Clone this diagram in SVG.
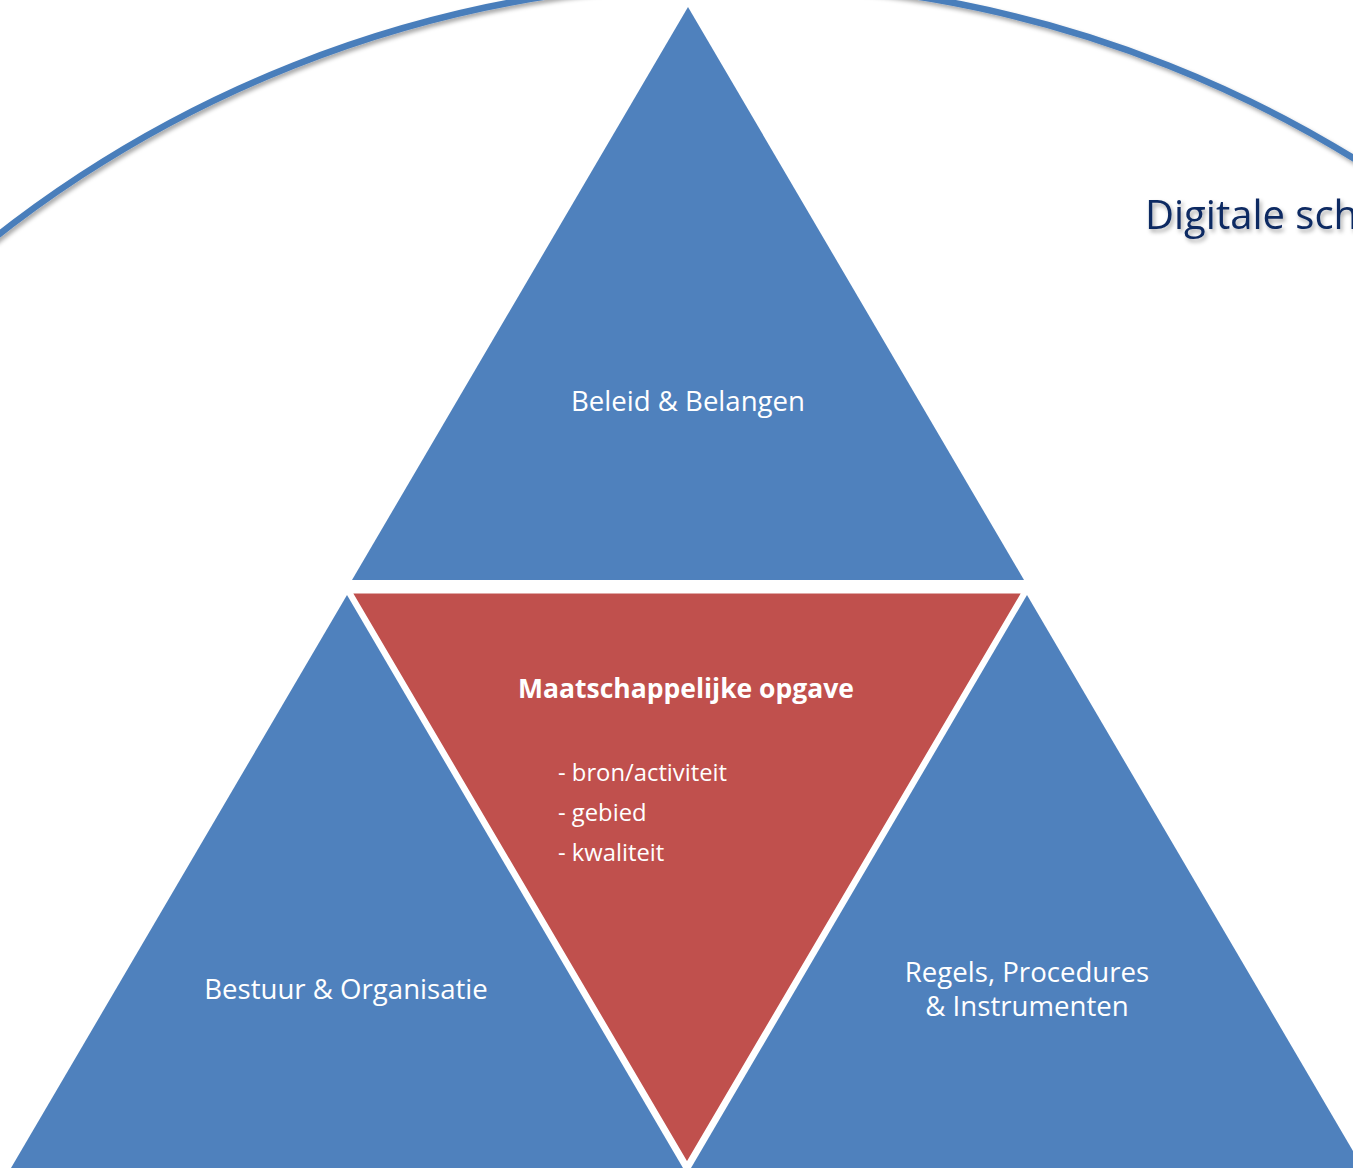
<svg xmlns="http://www.w3.org/2000/svg" width="1353" height="1168" viewBox="0 0 1353 1168">
<defs>
<style>
.blue{fill:#4F81BD;}
.red{fill:#C0504D;stroke:#FFFFFF;stroke-width:5;stroke-linejoin:miter;}
.lbl{font-family:"Open Sans","Noto Sans","DejaVu Sans",sans-serif;fill:#FFFFFF;font-size:27.6px;}
.bold{font-size:26.5px;font-weight:bold;}
.item{font-family:"Open Sans","Noto Sans","DejaVu Sans",sans-serif;fill:#FFFFFF;font-size:23.8px;}
.title{font-family:"Open Sans","Noto Sans","DejaVu Sans",sans-serif;fill:#0E2A62;font-size:40px;}
.arc{fill:none;stroke:#4A7EBB;stroke-width:6.5;}
</style>
<filter id="sh" x="-10%" y="-10%" width="120%" height="130%">
<feDropShadow dx="2" dy="3" stdDeviation="2" flood-color="#000000" flood-opacity="0.35"/>
</filter>
</defs>
<g id="circle-arc">
<circle class="arc" cx="731" cy="1170" r="1188" filter="url(#sh)"/>
</g>
<g id="title">
<text class="title" x="1145" y="229" filter="url(#sh)">Digitale sch</text>
</g>
<g id="beleid">
<polygon class="blue" points="688,7 352,580 1024,580"/>
<text class="lbl" x="688" y="411" text-anchor="middle">Beleid &amp; Belangen</text>
</g>
<g id="bestuur">
<polygon class="blue" points="347,595 11,1168 683,1168"/>
<text class="lbl" x="346" y="999" text-anchor="middle">Bestuur &amp; Organisatie</text>
</g>
<g id="regels">
<polygon class="blue" points="1027,595 691,1168 1363,1168"/>
<text class="lbl" text-anchor="middle"><tspan x="1027" y="982">Regels, Procedures</tspan><tspan x="1027" y="1016">&amp; Instrumenten</tspan></text>
</g>
<g id="opgave">
<polygon class="red" points="349,591 1025,591 687,1166"/>
<text class="lbl bold" x="686" y="698" text-anchor="middle">Maatschappelijke opgave</text>
<text class="item" x="558" y="781">- bron/activiteit</text>
<text class="item" x="558" y="821">- gebied</text>
<text class="item" x="558" y="861">- kwaliteit</text>
</g>
<g id="connectors"></g>
</svg>
